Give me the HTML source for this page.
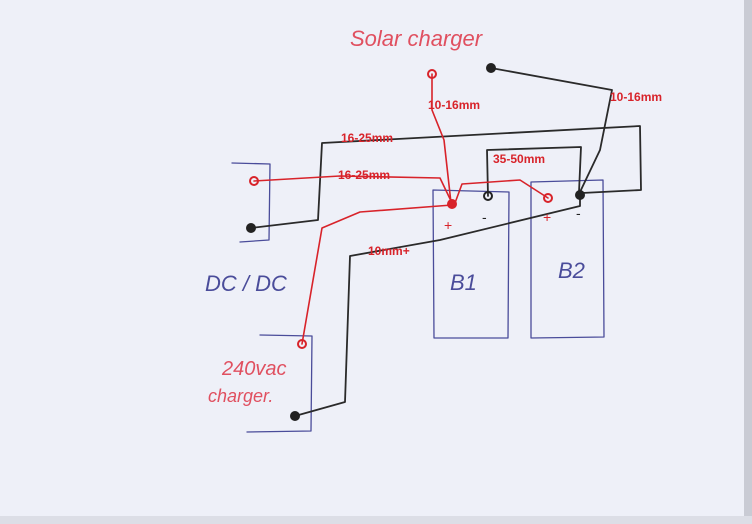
<!DOCTYPE html>
<html><head><meta charset="utf-8"><style>
html,body{margin:0;padding:0;background:#eef0f8;}
svg{display:block}
.lbl{font-family:"Liberation Sans",sans-serif;font-weight:bold;font-size:12px;fill:#d8232a}
.hand{font-family:"Liberation Sans",sans-serif;font-style:italic}
</style></head><body>
<svg width="752" height="524" viewBox="0 0 752 524" xmlns="http://www.w3.org/2000/svg">
<rect width="752" height="524" fill="#eef0f8"/>
<rect x="744" y="0" width="8" height="524" fill="#c9cbd4"/>
<rect x="0" y="516" width="752" height="8" fill="#dcdee6"/>
<g fill="none" stroke-linecap="round" stroke-linejoin="round">
<!-- boxes blue -->
<g stroke="#4a4c9a" stroke-width="1.3">
<path d="M433,190 L509,192 L508,338 L434,338 Z"/>
<path d="M531,182 L603,180 L604,337 L531,338 Z"/>
<path d="M232,163 L270,164 L269,240 L240,242"/>
<path d="M260,335 L312,336 L311,431 L247,432"/>
</g>
<!-- black wires -->
<g stroke="#2a2a2a" stroke-width="1.8">
<path d="M251,228 L318,220 L322,143 L640,126 L641,190 L582,193"/>
<path d="M491,68 L612,90 L600,150 L580,192"/>
<path d="M488,196 L487,150 L581,147 L579,192"/>
<path d="M295,416 L345,402 L350,256 L440,240 L580,206 L580,196"/>
</g>
<!-- red wires -->
<g stroke="#d8232a" stroke-width="1.6">
<path d="M432,74 L432,110 L444,140 L451,203"/>
<path d="M254,181 L340,176 L440,178 L452,203"/>
<path d="M302,344 L322,228 L360,212 L452,205"/>
<path d="M455,203 L462,184 L520,180 L548,198"/>
</g>
<!-- terminals -->
<g stroke-width="2">
<circle cx="432" cy="74" r="4" stroke="#d8232a"/>
<circle cx="491" cy="68" r="4" stroke="#222" fill="#222"/>
<circle cx="254" cy="181" r="4" stroke="#d8232a"/>
<circle cx="251" cy="228" r="4" stroke="#222" fill="#222"/>
<circle cx="302" cy="344" r="4" stroke="#d8232a"/>
<circle cx="295" cy="416" r="4" stroke="#222" fill="#222"/>
<circle cx="452" cy="204" r="4" stroke="#d8232a" fill="#d8232a"/>
<circle cx="488" cy="196" r="4" stroke="#222"/>
<circle cx="548" cy="198" r="4" stroke="#d8232a"/>
<circle cx="580" cy="195" r="4" stroke="#222" fill="#222"/>
</g>
</g>
<text class="lbl" x="428" y="109">10-16mm</text>
<text class="lbl" x="610" y="101">10-16mm</text>
<text class="lbl" x="341" y="142">16-25mm</text>
<text class="lbl" x="338" y="179">16-25mm</text>
<text class="lbl" x="493" y="163">35-50mm</text>
<text class="lbl" x="368" y="255">10mm+</text>
<text class="hand" x="350" y="46" font-size="22" fill="#e05060">Solar charger</text>
<text class="hand" x="205" y="291" font-size="22" fill="#4a4c9a">DC / DC</text>
<text class="hand" x="450" y="290" font-size="22" fill="#4a4c9a">B1</text>
<text class="hand" x="558" y="278" font-size="22" fill="#4a4c9a">B2</text>
<text class="hand" x="222" y="375" font-size="20" fill="#e05060">240vac</text>
<text class="hand" x="208" y="402" font-size="18" fill="#e05060">charger.</text>
<text x="444" y="230" font-size="14" fill="#d8232a" font-family="Liberation Sans">+</text>
<text x="482" y="222" font-size="14" fill="#222" font-family="Liberation Sans">-</text>
<text x="543" y="222" font-size="14" fill="#d8232a" font-family="Liberation Sans">+</text>
<text x="576" y="218" font-size="14" fill="#222" font-family="Liberation Sans">-</text>
</svg>
</body></html>
